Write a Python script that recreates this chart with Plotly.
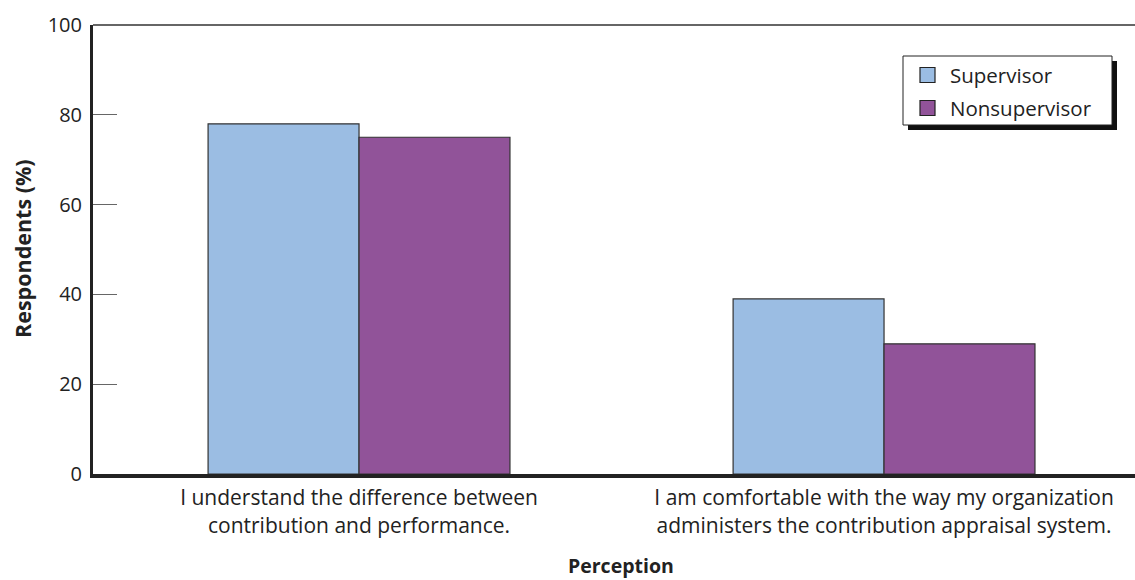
import plotly.graph_objects as go

# Survey data
categories = [
    "I understand the difference between<br>contribution and performance.",
    "I am comfortable with the way my organization<br>administers the contribution appraisal system.",
]
series_names = ["Supervisor", "Nonsupervisor"]
supervisor = [78, 39]
nonsupervisor = [75, 29]
y_ticks = [0, 20, 40, 60, 80, 100]

FONT = "Open Sans"
COLORS = ["#9bbde3", "#915399"]
EDGE = "#333333"
TXT = "#222222"

fig = go.Figure()
for name, vals, color in zip(series_names, [supervisor, nonsupervisor], COLORS):
    fig.add_trace(go.Bar(
        name=name, x=categories, y=vals, showlegend=False,
        marker=dict(color=color, line=dict(color=EDGE, width=1.2)),
    ))

W, H = 1135, 580
L, R, T, B = 93, 0, 25, 106
pw, ph = W - L - R, H - T - B

def px_x(x):
    return (x - L) / pw

def px_y(y):
    return (H - B - y) / ph

# legend frame with drop shadow
fig.add_shape(type="rect", xref="paper", yref="paper",
              x0=px_x(908), x1=px_x(1117), y0=px_y(130), y1=px_y(61),
              fillcolor="#111111", line=dict(width=0), layer="below")
fig.add_shape(type="rect", xref="paper", yref="paper",
              x0=px_x(903), x1=px_x(1112), y0=px_y(125), y1=px_y(56),
              fillcolor="white", line=dict(color="#222222", width=1), layer="below")

# legend entries: swatch + label
for i, (name, color) in enumerate(zip(series_names, COLORS)):
    cy = 75 + 33 * i
    fig.add_shape(type="rect", xref="paper", yref="paper",
                  x0=px_x(920), x1=px_x(935), y0=px_y(cy + 7.5), y1=px_y(cy - 7.5),
                  fillcolor=color, line=dict(color="#222222", width=1.2))
    fig.add_annotation(text=name, xref="paper", yref="paper",
                       x=px_x(948), y=px_y(cy), showarrow=False,
                       xanchor="left", yanchor="middle",
                       font=dict(family=FONT, size=20.5, color=TXT))

# top frame line
fig.add_shape(type="line", xref="paper", yref="paper",
              x0=0, x1=1, y0=1, y1=1, line=dict(color="#333333", width=1.5))

# axis titles
fig.add_annotation(text="<b>Perception</b>", xref="paper", yref="paper",
                   x=px_x(621), y=px_y(565), showarrow=False, borderpad=0,
                   xanchor="center", yanchor="middle",
                   font=dict(family=FONT, size=19.5, color=TXT))
fig.add_annotation(text="<b>Respondents (%)</b>", xref="paper", yref="paper",
                   x=px_x(22), y=px_y(249), showarrow=False, textangle=-90,
                   xanchor="center", yanchor="middle",
                   font=dict(family=FONT, size=21.5, color=TXT))

fig.update_layout(
    width=W, height=H,
    margin=dict(l=L, r=R, t=T, b=B),
    paper_bgcolor="white", plot_bgcolor="white",
    barmode="group", bargap=0.425, bargroupgap=0,
    font=dict(family=FONT, size=20, color=TXT),
    showlegend=False,
    xaxis=dict(
        range=[-0.5067, 1.478],
        showline=True, linecolor="#222222", linewidth=4,
        ticks="", showgrid=False, ticklabelstandoff=2,
        tickfont=dict(family=FONT, size=21, color=TXT),
    ),
    yaxis=dict(
        range=[0, 100], tickvals=y_ticks,
        showline=True, linecolor="#222222", linewidth=3,
        ticks="inside", ticklen=24, tickcolor="#666666", tickwidth=1.3,
        showgrid=False, zeroline=False, ticklabelstandoff=4,
        tickfont=dict(family=FONT, size=20, color=TXT),
    ),
)

fig.write_html("out.html")
